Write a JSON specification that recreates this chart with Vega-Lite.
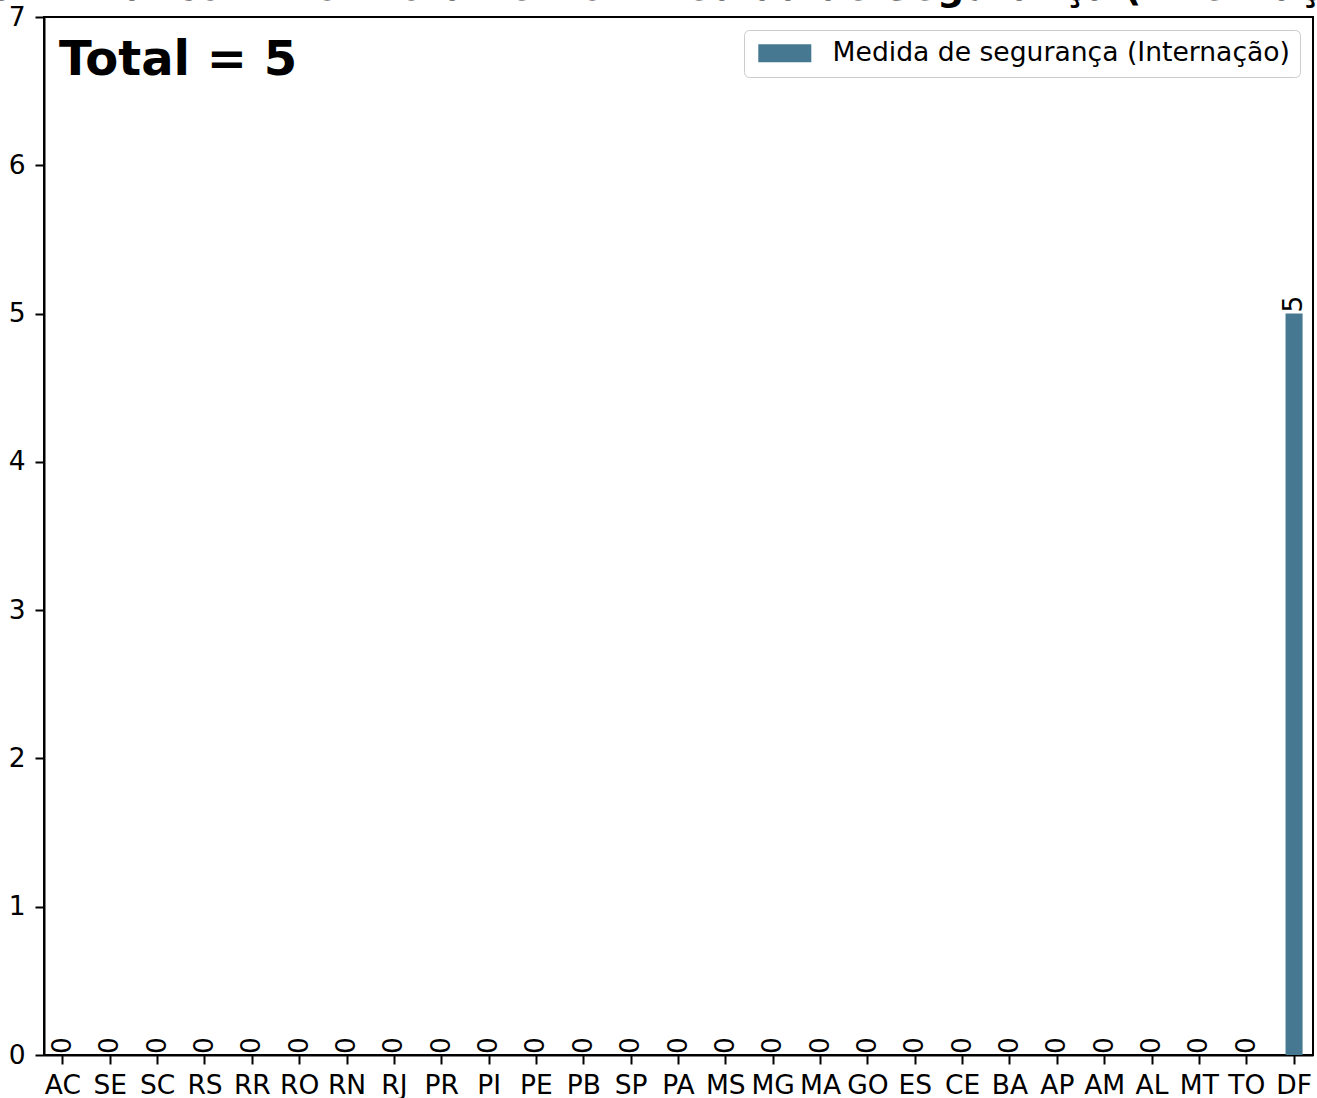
{
  "$schema": "https://vega.github.io/schema/vega-lite/v6.json",
  "width": 1269,
  "height": 1038,
  "autosize": {"type": "none"},
  "padding": {"left": 44, "top": 17, "right": 4, "bottom": 43},
  "background": "white",
  "config": {
    "font": "DejaVu Sans",
    "view": {"stroke": "black", "strokeWidth": 2},
    "axis": {"grid": false, "domainColor": "black", "domainWidth": 2, "tickColor": "black", "tickWidth": 2, "tickSize": 9, "labelFontSize": 26.5, "labelColor": "black", "labelFont": "DejaVu Sans", "title": null}
  },
  "title": {
    "text": "Criminal com Monitoramento - Medida de Segurança (Internação)",
    "font": "DejaVu Sans",
    "fontSize": 38,
    "fontWeight": "bold",
    "color": "black",
    "anchor": "middle",
    "frame": "group",
    "baseline": "alphabetic",
    "offset": -34,
    "dx": 8
  },
  "datasets": {
    "uf": [
      {"uf": "AC", "valor": 0, "serie": "Medida de segurança (Internação)"},
      {"uf": "SE", "valor": 0, "serie": "Medida de segurança (Internação)"},
      {"uf": "SC", "valor": 0, "serie": "Medida de segurança (Internação)"},
      {"uf": "RS", "valor": 0, "serie": "Medida de segurança (Internação)"},
      {"uf": "RR", "valor": 0, "serie": "Medida de segurança (Internação)"},
      {"uf": "RO", "valor": 0, "serie": "Medida de segurança (Internação)"},
      {"uf": "RN", "valor": 0, "serie": "Medida de segurança (Internação)"},
      {"uf": "RJ", "valor": 0, "serie": "Medida de segurança (Internação)"},
      {"uf": "PR", "valor": 0, "serie": "Medida de segurança (Internação)"},
      {"uf": "PI", "valor": 0, "serie": "Medida de segurança (Internação)"},
      {"uf": "PE", "valor": 0, "serie": "Medida de segurança (Internação)"},
      {"uf": "PB", "valor": 0, "serie": "Medida de segurança (Internação)"},
      {"uf": "SP", "valor": 0, "serie": "Medida de segurança (Internação)"},
      {"uf": "PA", "valor": 0, "serie": "Medida de segurança (Internação)"},
      {"uf": "MS", "valor": 0, "serie": "Medida de segurança (Internação)"},
      {"uf": "MG", "valor": 0, "serie": "Medida de segurança (Internação)"},
      {"uf": "MA", "valor": 0, "serie": "Medida de segurança (Internação)"},
      {"uf": "GO", "valor": 0, "serie": "Medida de segurança (Internação)"},
      {"uf": "ES", "valor": 0, "serie": "Medida de segurança (Internação)"},
      {"uf": "CE", "valor": 0, "serie": "Medida de segurança (Internação)"},
      {"uf": "BA", "valor": 0, "serie": "Medida de segurança (Internação)"},
      {"uf": "AP", "valor": 0, "serie": "Medida de segurança (Internação)"},
      {"uf": "AM", "valor": 0, "serie": "Medida de segurança (Internação)"},
      {"uf": "AL", "valor": 0, "serie": "Medida de segurança (Internação)"},
      {"uf": "MT", "valor": 0, "serie": "Medida de segurança (Internação)"},
      {"uf": "TO", "valor": 0, "serie": "Medida de segurança (Internação)"},
      {"uf": "DF", "valor": 5, "serie": "Medida de segurança (Internação)"}
    ],
    "total": [{"texto": "Total = 5"}]
  },
  "layer": [
    {
      "data": {"name": "uf"},
      "mark": {"type": "bar"},
      "encoding": {
        "x": {"field": "uf", "type": "nominal", "sort": null,
              "scale": {"paddingInner": 0.64, "paddingOuter": 0.22},
              "axis": {"labelAngle": 0, "labelPadding": 8}},
        "y": {"field": "valor", "type": "quantitative",
              "scale": {"domain": [0, 7], "nice": false},
              "axis": {"values": [0, 1, 2, 3, 4, 5, 6, 7], "format": "d", "labelPadding": 10}},
        "color": {"field": "serie", "type": "nominal",
                  "scale": {"range": ["#467891"]},
                  "legend": {"orient": "top-right", "offset": 13, "title": null,
                             "labelFontSize": 26.6, "labelFont": "DejaVu Sans", "labelColor": "black",
                             "labelLimit": 0,
                             "symbolType": "M-1,-1H4.89V1H-1Z", "symbolSize": 324,
                             "symbolStrokeWidth": 0, "symbolOpacity": 1,
                             "labelOffset": 52, "padding": 10,
                             "strokeColor": "#cccccc", "fillColor": "white",
                             "cornerRadius": 5}}
      }
    },
    {
      "data": {"name": "uf"},
      "mark": {"type": "text", "angle": 270, "align": "left", "baseline": "middle", "dx": 1, "fontSize": 26.5, "color": "black"},
      "encoding": {
        "x": {"field": "uf", "type": "nominal", "sort": null},
        "y": {"field": "valor", "type": "quantitative"},
        "text": {"field": "valor", "type": "quantitative"}
      }
    },
    {
      "data": {"name": "total"},
      "mark": {"type": "text", "align": "left", "baseline": "alphabetic", "dx": -4, "fontSize": 48, "fontWeight": "bold", "color": "black"},
      "encoding": {
        "x": {"datum": "AC"},
        "y": {"datum": 6.61},
        "text": {"field": "texto"}
      }
    }
  ]
}
